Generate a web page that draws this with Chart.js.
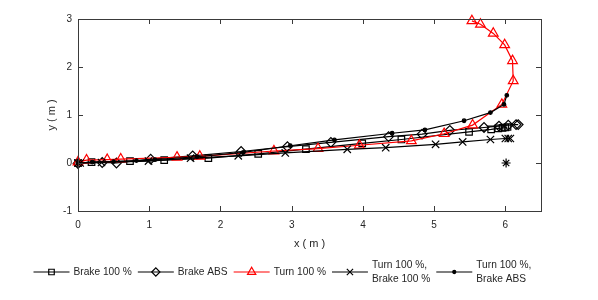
<!DOCTYPE html>
<html>
<head>
<meta charset="utf-8">
<script src="https://cdn.jsdelivr.net/npm/chart.js@4"></script>
<style>
  body { margin: 0; background: #fff; }
  #wrap { width: 598px; height: 300px; }
</style>
</head>
<body>
<div id="wrap"><canvas id="myChart"></canvas></div>
<script>
// series data (metres)
var brake100X = [0, 0.19, 0.73, 1.21, 1.83, 2.53, 3.2, 3.99, 4.54, 5.49, 5.8, 5.9, 5.96, 6.0, 6.03];
var brake100Y = [0, 0.02, 0.04, 0.06, 0.1, 0.19, 0.29, 0.41, 0.49, 0.65, 0.7, 0.72, 0.73, 0.74, 0.75];

var brakeAbsX = [0, 0.34, 0.54, 1.02, 1.61, 2.29, 2.94, 3.55, 4.36, 4.83, 5.22, 5.7, 5.91, 6.04, 6.15, 6.18];
var brakeAbsY = [-0.01, 0.01, 0.0, 0.08, 0.15, 0.24, 0.34, 0.43, 0.55, 0.6, 0.68, 0.74, 0.77, 0.79, 0.8, 0.8];

var turnX = [0, 0.12, 0.41, 0.6, 1.39, 1.71, 2.75, 3.37, 3.95, 4.68, 5.14, 5.54, 5.95, 6.11, 6.1, 5.99, 5.83, 5.65, 5.53];
var turnY = [0.02, 0.06, 0.07, 0.08, 0.12, 0.14, 0.25, 0.3, 0.37, 0.46, 0.61, 0.79, 1.22, 1.71, 2.13, 2.46, 2.7, 2.89, 2.96];

var turnBrake100X = [0, 0.03, 0.33, 0.99, 1.58, 2.25, 2.91, 3.78, 4.32, 5.02, 5.4, 5.79, 6.0, 6.04, 6.07];
var turnBrake100Y = [0, 0, 0.01, 0.04, 0.1, 0.15, 0.21, 0.285, 0.32, 0.39, 0.44, 0.49, 0.51, 0.51, 0.51];

var turnBrakeAbsX = [0, 0.2, 0.5, 0.82, 1.08, 1.67, 2.32, 2.98, 3.6, 4.41, 4.87, 5.42, 5.79, 5.98, 6.02];
var turnBrakeAbsY = [0, 0.02, 0.03, 0.05, 0.07, 0.13, 0.22, 0.36, 0.48, 0.62, 0.69, 0.88, 1.05, 1.22, 1.41];

var extraX = [6.01];
var extraY = [0];

var xTicks = [0, 1, 2, 3, 4, 5, 6];
var yTicks = [-1, 0, 1, 2, 3];

var labels = [['Brake 100 %'], ['Brake ABS'], ['Turn 100 %'], ['Turn 100 %,', 'Brake 100 %'], ['Turn 100 %,', 'Brake ABS']];

function pts(xs, ys) {
  return xs.map(function (x, i) { return { x: x, y: ys[i] }; });
}

var axisColor = '#3a3a3a';
var textColor = '#262626';
var fontFamily = '"Liberation Sans", Arial, Helvetica, sans-serif';

function series(label, xs, ys, color, style, radius, order, fill) {
  return {
    label: label,
    data: pts(xs, ys),
    borderColor: color,
    backgroundColor: fill || 'rgba(0,0,0,0)',
    pointBorderColor: color,
    pointBackgroundColor: fill || 'rgba(0,0,0,0)',
    pointStyle: style,
    pointRadius: radius,
    pointHoverRadius: radius,
    pointBorderWidth: 1.2,
    borderWidth: 1.2,
    tension: 0,
    clip: 12,
    order: order
  };
}

var datasets = [
  series('Brake 100 %', brake100X, brake100Y, '#000', 'rect', 4.6, 10),
  series('Brake ABS', brakeAbsX, brakeAbsY, '#000', 'rectRot', 4.8, 9),
  series('Turn 100 %', turnX, turnY, '#ff0000', 'triangle', 5.6, 8),
  series('Turn 100 %, Brake 100 %', turnBrake100X, turnBrake100Y, '#000', 'crossRot', 5.2, 7),
  series('Turn 100 %, Brake ABS', turnBrakeAbsX, turnBrakeAbsY, '#000', 'circle', 1.8, 6, '#000'),
  Object.assign(series('', extraX, extraY, '#000', 'star', 4.5, 5), { showLine: false })
];

// box, inward ticks, titles and legend drawn MATLAB-style
var figurePlugin = {
  id: 'figurePlugin',
  afterDraw: function (chart) {
    var ctx = chart.ctx;
    var a = chart.chartArea;
    var xs = chart.scales.x, ys = chart.scales.y;
    ctx.save();
    ctx.strokeStyle = axisColor;
    ctx.lineWidth = 1;
    ctx.strokeRect(Math.round(a.left) + 0.5, Math.round(a.top) + 0.5, Math.round(a.right - a.left), Math.round(a.bottom - a.top));
    ctx.beginPath();
    xTicks.forEach(function (v) {
      var px = Math.round(xs.getPixelForValue(v)) + 0.5;
      ctx.moveTo(px, a.bottom); ctx.lineTo(px, a.bottom - 5);
      ctx.moveTo(px, a.top); ctx.lineTo(px, a.top + 5);
    });
    yTicks.forEach(function (v) {
      var py = Math.round(ys.getPixelForValue(v)) + 0.5;
      ctx.moveTo(a.left, py); ctx.lineTo(a.left + 5, py);
      ctx.moveTo(a.right, py); ctx.lineTo(a.right - 5, py);
    });
    ctx.stroke();

    // axis titles
    ctx.fillStyle = textColor;
    ctx.font = '11px ' + fontFamily;
    ctx.textAlign = 'center';
    ctx.textBaseline = 'middle';
    ctx.fillText('x ( m )', (a.left + a.right) / 2, 244);
    ctx.save();
    ctx.translate(52, (a.top + a.bottom) / 2);
    ctx.rotate(-Math.PI / 2);
    ctx.fillText('y ( m )', 0, 0);
    ctx.restore();

    // legend
    ctx.font = '10.2px ' + fontFamily;
    ctx.textAlign = 'left';
    var x = 33.5, ly = 272;
    for (var i = 0; i < labels.length; i++) {
      var ds = datasets[i];
      ctx.strokeStyle = ds.borderColor;
      ctx.lineWidth = 1.2;
      ctx.beginPath();
      ctx.moveTo(x, ly); ctx.lineTo(x + 36, ly);
      ctx.stroke();
      ctx.fillStyle = ds.pointBackgroundColor;
      ctx.strokeStyle = ds.pointBorderColor;
      Chart.helpers.drawPoint(ctx, {
        pointStyle: ds.pointStyle,
        radius: ds.pointRadius * 0.85,
        borderWidth: 1.2,
        rotation: 0
      }, x + 18, ly);
      ctx.fillStyle = textColor;
      var lines = labels[i];
      var w = 0;
      for (var j = 0; j < lines.length; j++) {
        var ty = lines.length === 1 ? ly : ly - 6.7 + j * 13.4;
        ctx.fillText(lines[j], x + 40, ty);
        w = Math.max(w, ctx.measureText(lines[j]).width);
      }
      x += 40 + w + 6;
    }
    ctx.restore();
  }
};

var myChart = new Chart(document.getElementById('myChart').getContext('2d'), {
  type: 'line',
  data: { datasets: datasets },
  options: {
    responsive: true,
    maintainAspectRatio: false,
    animation: false,
    layout: { padding: { left: 0, right: 57, top: 19, bottom: 0 } },
    plugins: {
      legend: { display: false },
      tooltip: { enabled: false }
    },
    scales: {
      x: {
        type: 'linear',
        min: 0,
        max: 6.5,
        grid: { display: false, drawTicks: false },
        border: { display: false },
        afterBuildTicks: function (s) { s.ticks = xTicks.map(function (v) { return { value: v }; }); },
        afterFit: function (s) { s.height = 89; },
        ticks: { color: textColor, font: { family: fontFamily, size: 10 }, padding: 8, maxRotation: 0 }
      },
      y: {
        type: 'linear',
        min: -1,
        max: 3,
        grid: { display: false, drawTicks: false },
        border: { display: false },
        afterBuildTicks: function (s) { s.ticks = yTicks.map(function (v) { return { value: v }; }); },
        afterFit: function (s) { s.width = 78; },
        ticks: { color: textColor, font: { family: fontFamily, size: 10 }, padding: 6 }
      }
    }
  },
  plugins: [figurePlugin]
});
</script>
</body>
</html>
